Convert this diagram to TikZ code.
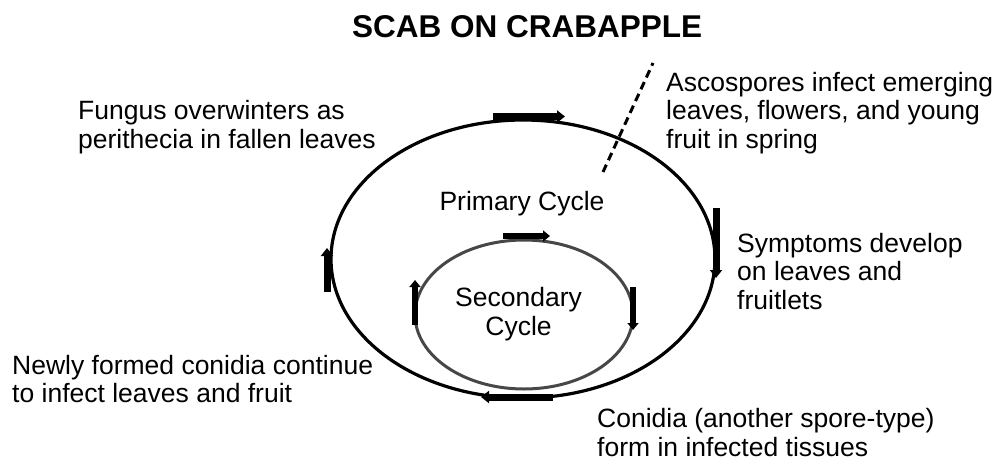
\documentclass[tikz,border=0pt]{standalone}
\usepackage{fontspec}
\setmainfont{Liberation Sans}
\usetikzlibrary{arrows.meta}
\begin{document}
\begin{tikzpicture}[x=1pt,y=-1pt,
  lbl/.style={font=\fontsize{26.5}{28.2}\selectfont, inner sep=0pt, align=left, anchor=base west},
  clbl/.style={font=\fontsize{26.5}{28.2}\selectfont, inner sep=0pt, align=center, anchor=base},
  outerring/.style={line width=3.2pt, draw=black},
  innerring/.style={line width=3pt, draw=black!72},
  bar/.style={line width=7pt, -{Triangle[width=12pt,length=8pt]}},
  sbar/.style={line width=6pt, -{Triangle[width=11pt,length=7pt]}},
  dashline/.style={line width=3pt, dash pattern=on 8pt off 5pt}
]
\useasboundingbox (0,0) rectangle (997,461);
% title
\node[inner sep=0pt, anchor=base west, font=\bfseries\fontsize{31.5}{34}\selectfont] (title) at (352,37) {SCAB ON CRABAPPLE};
% cycles
\coordinate (oc) at (523,259);
\coordinate (ic) at (524,314.5);
\draw[outerring] (oc) ellipse [x radius=192, y radius=139];
\draw[innerring] (ic) ellipse [x radius=109, y radius=74.5];
% outer arrows
\coordinate (ot1) at (493,116.5); \coordinate (ot2) at (565,116.5);
\coordinate (or1) at (716,208);   \coordinate (or2) at (716,278);
\coordinate (ob1) at (553,397);   \coordinate (ob2) at (481,397);
\coordinate (ol1) at (327,292);   \coordinate (ol2) at (327,248);
\draw[bar] (ot1) -- (ot2);
\draw[bar] (or1) -- (or2);
\draw[bar] (ob1) -- (ob2);
\draw[bar] (ol1) -- (ol2);
% inner arrows
\coordinate (it1) at (503,236);   \coordinate (it2) at (550,236);
\coordinate (ir1) at (633,287);   \coordinate (ir2) at (633,330);
\coordinate (il1) at (415,325);   \coordinate (il2) at (415,280);
\draw[sbar] (it1) -- (it2);
\draw[sbar] (ir1) -- (ir2);
\draw[sbar] (il1) -- (il2);
% dashed pointer
\coordinate (d1) at (603,172); \coordinate (d2) at (653,63);
\draw[dashline] (d1) -- (d2);
% labels (base anchor = baseline of the last line)
\node[lbl] (fungus) at (78,148) {Fungus overwinters as\\perithecia in fallen leaves};
\node[lbl] (asco) at (666,148) {Ascospores infect emerging\\leaves, flowers, and young\\fruit in spring};
\node[lbl] (sympt) at (737,309) {Symptoms develop\\on leaves and\\fruitlets};
\node[lbl] (newly) at (12,402.5) {Newly formed conidia continue\\to infect leaves and fruit};
\node[lbl] (conid) at (597,456) {Conidia (another spore-type)\\form in infected tissues};
\node[clbl] (prim) at (522,210) {Primary Cycle};
\node[clbl] (sec) at (518.5,335) {Secondary\\Cycle};
\end{tikzpicture}
\end{document}
